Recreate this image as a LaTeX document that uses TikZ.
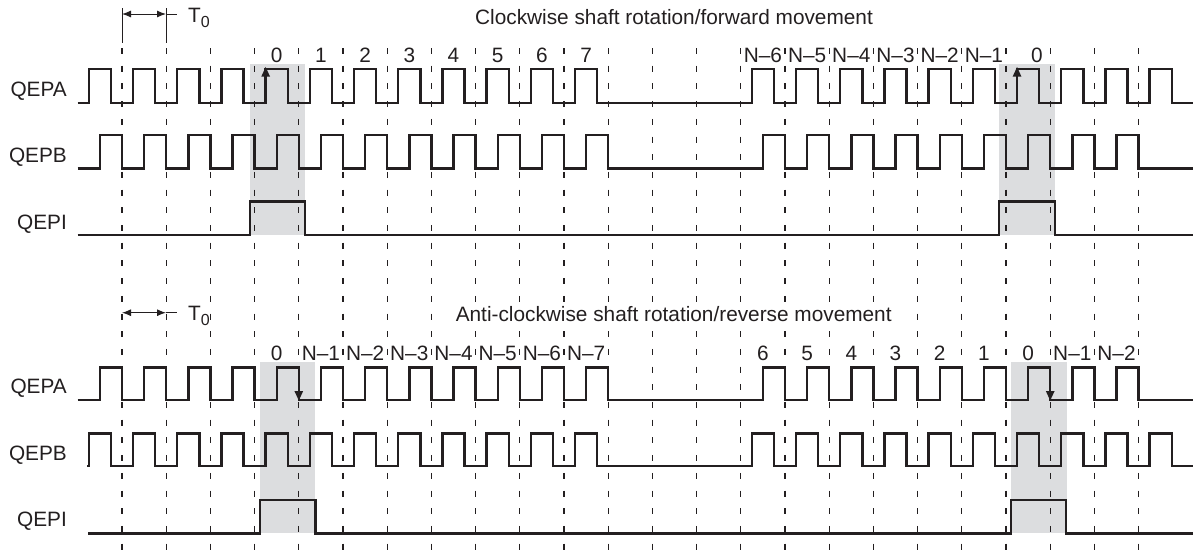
\documentclass[tikz,border=0pt]{standalone}
\usepackage{fontspec}
\setmainfont{Liberation Sans}
\usetikzlibrary{arrows.meta}
\definecolor{ink}{RGB}{35,31,32}
\definecolor{shadegray}{RGB}{220,221,223}
\begin{document}
\begin{tikzpicture}[x=1pt,y=-1pt,
  sig/.style={draw=ink, line width=2.4pt, line join=miter},
  gridline/.style={draw=ink, line width=1.1pt, dash pattern=on 6pt off 11.7pt},
  thin/.style={draw=ink, line width=1pt},
  lbl/.style={inner sep=0pt, font=\fontsize{20.8}{24}\selectfont, text=ink},
  tip/.style={fill=ink},
  dimarrow/.style={thin, {Latex[length=9pt,width=7pt]}-{Latex[length=9pt,width=7pt]}}]
\useasboundingbox (0,0) rectangle (1198,552);
% shaded index windows
\fill[shadegray] (249.7,64) rectangle (304.7,235);
\fill[shadegray] (999,64) rectangle (1055,235);
\fill[shadegray] (260,361.7) rectangle (315.3,533.3);
\fill[shadegray] (1011,361.7) rectangle (1066.7,533.3);
% dashed grid
\foreach \k in {0,...,23} \draw[gridline] ({122+44.2*\k},48) -- ({122+44.2*\k},552);
% T0 markers
\draw[thin] (122,8.3) -- (122,42.7);
\draw[thin] (166,8.3) -- (166,42.7);
\coordinate (ta1) at (122,14);
\coordinate (tb1) at (166,14);
\coordinate (tc1) at (177,14);
\draw[dimarrow] (ta1) -- (tb1);
\draw[thin] (tb1) -- (tc1);
\node[lbl, anchor=base west] (t0a) at (188,22) {T\raisebox{-5.3pt}{\fontsize{16}{16}\selectfont 0}};
\coordinate (ta2) at (122,312.7);
\coordinate (tb2) at (166,312.7);
\coordinate (tc2) at (177,312.7);
\draw[dimarrow] (ta2) -- (tb2);
\draw[thin] (tb2) -- (tc2);
\node[lbl, anchor=base west] (t0b) at (188,320.5) {T\raisebox{-5.3pt}{\fontsize{16}{16}\selectfont 0}};
% titles
\node[lbl, anchor=base] (title1) at (674,24.3) {Clockwise shaft rotation/forward movement};
\node[lbl, anchor=base, fill=white, inner xsep=1pt, inner ysep=4pt] (title2) at (673.7,321.5) {Anti-clockwise shaft rotation/reverse movement};
% signal names
\node[lbl, anchor=base east] (qa1) at (67,96.7) {QEPA};
\node[lbl, anchor=base east] (qb1) at (67,162.5) {QEPB};
\node[lbl, anchor=base east] (qi1) at (67,229.3) {QEPI};
\node[lbl, anchor=base east] (qa2) at (67,393.5) {QEPA};
\node[lbl, anchor=base east] (qb2) at (67,460) {QEPB};
\node[lbl, anchor=base east] (qi2) at (67,526.5) {QEPI};
% top waveforms
\draw[sig] (77.7,102.7) \foreach \k in {0,1,2,3,4,5,6,7,8,9,10,11,15,16,17,18,19,20,21,22,23,24} { -- ({88.85+44.2*\k},102.7) -- ({88.85+44.2*\k},69) -- ({110.95+44.2*\k},69) -- ({110.95+44.2*\k},102.7) } -- (1193,102.7);
\draw[sig] (77.7,168.3) \foreach \k in {0,1,2,3,4,5,6,7,8,9,10,11,15,16,17,18,19,20,21,22,23} { -- ({99.9+44.2*\k},168.3) -- ({99.9+44.2*\k},135) -- ({122+44.2*\k},135) -- ({122+44.2*\k},168.3) } -- (1193,168.3);
\draw[sig] (77.7,235) -- (249.7,235) -- (249.7,201.3) -- (304.7,201.3) -- (304.7,235) -- (999,235) -- (999,201.3) -- (1055,201.3) -- (1055,235) -- (1193,235);
% bottom waveforms
\draw[sig] (77.7,400) \foreach \k in {0,1,2,3,4,5,6,7,8,9,10,11,15,16,17,18,19,20,21,22,23} { -- ({99.9+44.2*\k},400) -- ({99.9+44.2*\k},367.3) -- ({122+44.2*\k},367.3) -- ({122+44.2*\k},400) } -- (1193,400);
\draw[sig] (87.3,465.7) \foreach \k in {0,1,2,3,4,5,6,7,8,9,10,11,15,16,17,18,19,20,21,22,23,24} { -- ({88.85+44.2*\k},465.7) -- ({88.85+44.2*\k},433.3) -- ({110.95+44.2*\k},433.3) -- ({110.95+44.2*\k},465.7) } -- (1193,465.7);
\draw[sig] (88.3,533.3) -- (260,533.3) -- (260,500) -- (315.3,500) -- (315.3,533.3) -- (1010.7,533.3) -- (1010.7,500) -- (1066,500) -- (1066,533.3) -- (1193,533.3);
% edge arrows
\fill[tip] (265.65,67) -- (261.3,76.5) -- (270,76.5) -- cycle;
\fill[tip] (1017.05,67) -- (1012.7,76.5) -- (1021.4,76.5) -- cycle;
\fill[tip] (298.8,400.5) -- (294.4,391) -- (303.2,391) -- cycle;
\fill[tip] (1050.2,400.5) -- (1045.8,391) -- (1054.6,391) -- cycle;
% count labels, top
\foreach \k/\lab in {4/0,5/1,6/2,7/3,8/4,9/5,10/6,11/7,15/N–6,16/N–5,17/N–4,18/N–3,19/N–2,20/N–1}
  \node[lbl, anchor=base] (ct\k) at ({99.9+44.2*\k},62.5) {\lab};
\node[lbl, anchor=base] (ct21) at (1037,62.5) {0};
% count labels, bottom
\foreach \k/\lab in {4/0,5/N–1,6/N–2,7/N–3,8/N–4,9/N–5,10/N–6,11/N–7,15/6,16/5,17/4,18/3,19/2,20/1,21/0,22/N–1,23/N–2}
  \node[lbl, anchor=base] (cb\k) at ({99.9+44.2*\k},360) {\lab};
\end{tikzpicture}
\end{document}
